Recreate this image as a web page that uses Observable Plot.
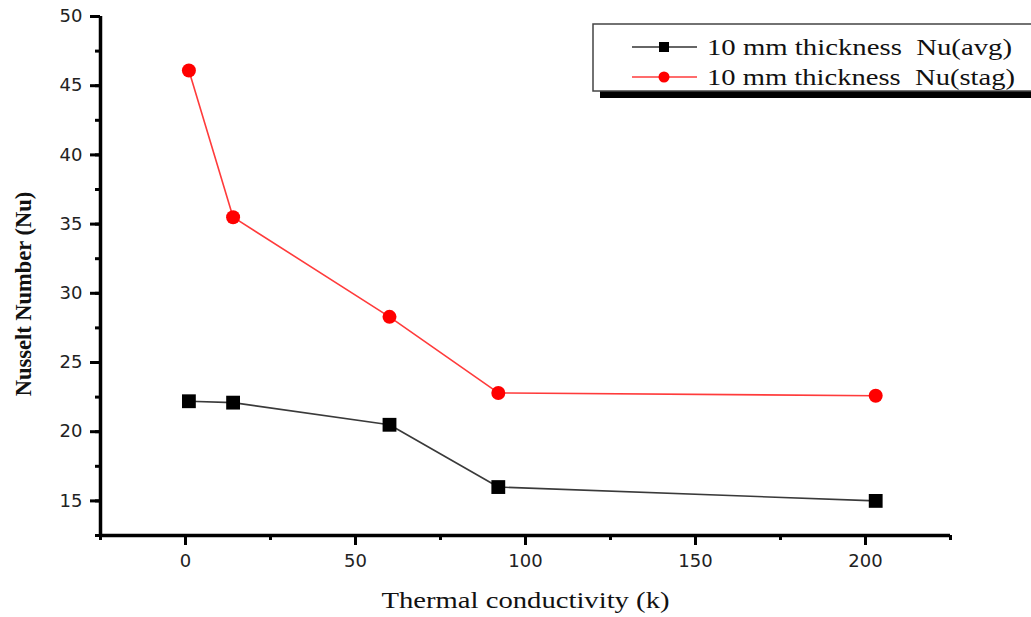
<!DOCTYPE html>
<html>
<head>
<meta charset="utf-8">
<script src="https://cdn.jsdelivr.net/npm/d3@7"></script>
<script src="https://cdn.jsdelivr.net/npm/@observablehq/plot@0.6"></script>
<style>
  html, body { margin: 0; padding: 0; background: #fff; }
</style>
</head>
<body>
<div id="chart"></div>
<script>
// Thermal conductivity of the plate material (k)
const conductivity = [1, 14, 60, 92, 203];
// Nusselt numbers for the 10 mm thick plate
const nuAvg = [22.2, 22.1, 20.5, 16.0, 15.0];
const nuStag = [46.1, 35.5, 28.3, 22.8, 22.6];

const seriesNames = ["10 mm thickness\u00a0 Nu(avg)", "10 mm thickness\u00a0 Nu(stag)"];
const xTicks = [0, 50, 100, 150, 200];
const yTicks = [15, 20, 25, 30, 35, 40, 45, 50];

const avgRows = conductivity.map((k, i) => ({k, nu: nuAvg[i]}));
const stagRows = conductivity.map((k, i) => ({k, nu: nuStag[i]}));

const black = "#000";
const red = "#ff0000";

const chart = Plot.plot({
  width: 1031,
  height: 617,
  marginLeft: 100,
  marginRight: 81,
  marginTop: 16,
  marginBottom: 82,
  x: {domain: [-25, 225]},
  y: {domain: [12.5, 50]},
  style: {fontFamily: "DejaVu Sans", fontSize: "18px", color: "#222", background: "#fff"},
  marks: [
    // minor ticks
    Plot.axisX(d3.range(-25, 226, 25), {tickSize: 5, strokeWidth: 3, stroke: black, strokeOpacity: 1, fill: "none", label: null}),
    Plot.axisY(d3.range(12.5, 50.1, 2.5), {tickSize: 5, strokeWidth: 3, stroke: black, strokeOpacity: 1, fill: "none", label: null}),
    // major ticks with labels
    Plot.axisX(xTicks, {tickSize: 10, tickPadding: 9, strokeWidth: 3, stroke: black, strokeOpacity: 1, fill: "#222", label: null}),
    Plot.axisY(yTicks, {tickSize: 10, tickPadding: 8, strokeWidth: 3, stroke: black, strokeOpacity: 1, fill: "#222", label: null}),
    // axis lines
    Plot.ruleY([12.5], {stroke: black, strokeWidth: 3.5}),
    Plot.ruleX([-25], {stroke: black, strokeWidth: 3.5}),
    // series
    Plot.line(stagRows, {x: "k", y: "nu", stroke: "#ff3b3b", strokeWidth: 1.6}),
    Plot.line(avgRows, {x: "k", y: "nu", stroke: "#3a3a3a", strokeWidth: 1.6}),
    Plot.dot(stagRows, {x: "k", y: "nu", r: 7, fill: red, stroke: "none"}),
    Plot.dot(avgRows, {x: "k", y: "nu", r: 7.8, symbol: "square", fill: "#000", stroke: "none"}),
    // axis titles
    Plot.text(["Thermal conductivity (k)"], {
      frameAnchor: "bottom", lineAnchor: "middle", textAnchor: "middle", dy: 65,
      fontFamily: "Liberation Serif", fontSize: 23, fill: "#111", className: "x-title"
    }),
    Plot.text(["Nusselt Number (Nu)"], {
      frameAnchor: "left", textAnchor: "middle", lineAnchor: "middle", rotate: -90, dx: -77, dy: 18,
      fontFamily: "Liberation Serif", fontSize: 22.5, fontWeight: "bold", fill: "#111", className: "y-title"
    })
  ]
});

document.getElementById("chart").appendChild(chart);

const svg = d3.select(chart);
svg.selectAll(".x-title text").attr("textLength", 288).attr("lengthAdjust", "spacingAndGlyphs");
// heavier tick strokes
svg.selectAll('g[aria-label$="tick"]').attr("stroke-width", 3).attr("stroke", "#000");

// legend box with drop shadow
const lg = svg.append("g").attr("class", "legend").attr("text-anchor", "start");
lg.append("rect").attr("x", 600).attr("y", 31).attr("width", 460).attr("height", 67).attr("fill", "#000");
lg.append("rect").attr("x", 593).attr("y", 24).attr("width", 460).attr("height", 67)
  .attr("fill", "#fff").attr("stroke", "#444").attr("stroke-width", 1.5);

const rowY = [47, 77];
const rowColor = ["#333", "#ff3b3b"];
seriesNames.forEach((name, i) => {
  const y = rowY[i];
  lg.append("line").attr("x1", 632).attr("x2", 697).attr("y1", y).attr("y2", y)
    .attr("stroke", rowColor[i]).attr("stroke-width", 1.5);
  if (i === 0) {
    lg.append("rect").attr("x", 659).attr("y", y - 5).attr("width", 10).attr("height", 10).attr("fill", "#000");
  } else {
    lg.append("circle").attr("cx", 664).attr("cy", y).attr("r", 5.5).attr("fill", red);
  }
  lg.append("text").attr("x", 707).attr("y", y).attr("dy", "0.35em")
    .attr("text-anchor", "start")
    .attr("font-family", "Liberation Serif").attr("font-size", 24).attr("fill", "#111")
    .attr("textLength", i === 0 ? 305 : 308).attr("lengthAdjust", "spacingAndGlyphs")
    .text(name);
});
</script>
</body>
</html>
